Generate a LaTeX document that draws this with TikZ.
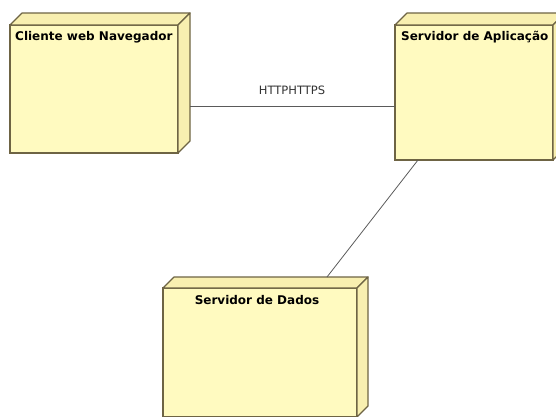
\documentclass[tikz,border=0pt]{standalone}
\usepackage{fontspec}
\setmainfont{DejaVu Sans}
\usetikzlibrary{calc}
\definecolor{nodefill}{HTML}{FFFAC0}
\definecolor{sidefill}{HTML}{F8EFB0}
\definecolor{edgecol}{HTML}{6E6444}
\definecolor{linecol}{HTML}{5A5A5A}
\tikzset{
  umlnode/.style={rectangle, draw=edgecol, fill=nodefill, line width=1.2pt,
    inner sep=0pt, outer sep=0pt, anchor=north west},
  face/.style={draw=edgecol, fill=sidefill, line width=1.2pt, line join=round},
  nodelabel/.style={font=\bfseries\fontsize{12}{14}\selectfont, inner sep=0pt, anchor=west},
  conn/.style={draw=linecol, line width=0.8pt},
  connlabel/.style={font=\fontsize{11.5}{13}\selectfont, text=black!80, inner sep=0pt}
}
\begin{document}
\begin{tikzpicture}[x=1pt,y=-1pt]
\clip (0,0) rectangle (556,416);
\fill[white] (0,0) rectangle (556,416);
% Cliente web Navegador
\node[umlnode, minimum width=168pt, minimum height=128pt] (a) at (10,25) {};
\draw[face] (a.north west) -- ++(12,-12) -- ($(a.north east)+(12,-12)$) -- (a.north east) -- cycle;
\draw[face] (a.north east) -- ++(12,-12) -- ($(a.south east)+(12,-12)$) -- (a.south east) -- cycle;
\node[nodelabel] (la) at (15,37) {Cliente web Navegador};
% Servidor de Aplicacao
\node[umlnode, minimum width=158pt, minimum height=135pt] (b) at (395,25) {};
\draw[face] (b.north west) -- ++(12,-12) -- ($(b.north east)+(12,-12)$) -- (b.north east) -- cycle;
\draw[face] (b.north east) -- ++(12,-12) -- ($(b.south east)+(12,-12)$) -- (b.south east) -- cycle;
\node[nodelabel] (lb) at (401,37) {Servidor de Aplicação};
% Servidor de Dados
\node[umlnode, minimum width=194pt, minimum height=129pt] (c) at (163,288) {};
\draw[face] (c.north west) -- ++(11,-11) -- ($(c.north east)+(11,-11)$) -- (c.north east) -- cycle;
\draw[face] (c.north east) -- ++(11,-11) -- ($(c.south east)+(11,-11)$) -- (c.south east) -- cycle;
\node[nodelabel, anchor=center] (lc) at (257,300) {Servidor de Dados};
% connectors
\draw[conn] (a.east) ++(12,17) coordinate (p1) -- (p1 -| b.west);
\node[connlabel] (http) at (292,90) {HTTPHTTPS};
\draw[conn] ([xshift=23pt]b.south west) -- ([shift={(164pt,11pt)}]c.north west);
\end{tikzpicture}
\end{document}
